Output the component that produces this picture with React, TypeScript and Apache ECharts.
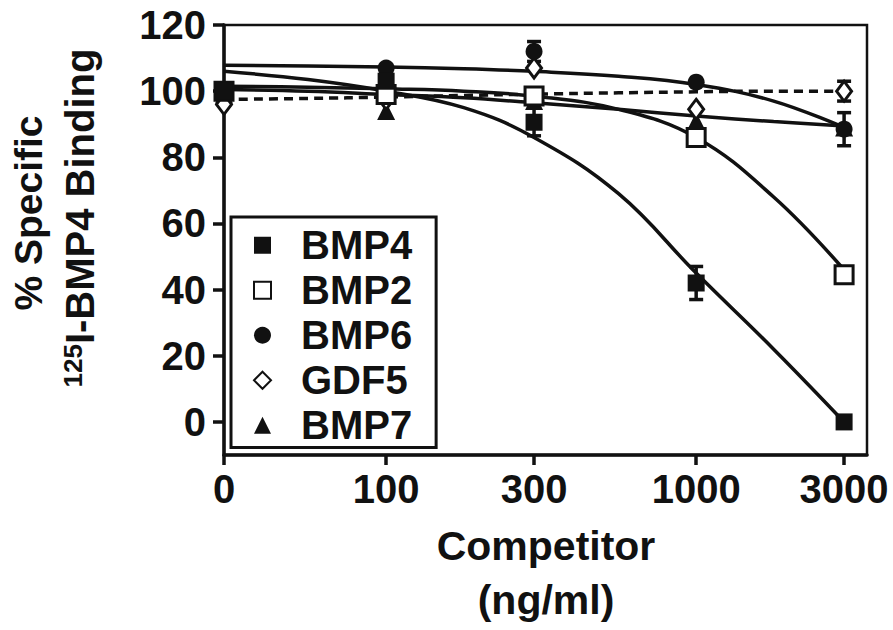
import React, { useEffect, useRef } from "react";
import * as echarts from "echarts";

// x positions (concentration in ng/ml; 0 is plotted at 30 on the log axis, as GraphPad does)
const concLabels = ["0", "100", "300", "1000", "3000"];
const concPlot = [30, 100, 300, 1000, 3000];

// measured points (% specific binding)
const bmp4 = [100, 103, 90.6, 42, 0];
const bmp2 = [100, 99, 98.5, 86, 44.5];
const bmp6 = [100, 107, 112, 102.7, 88.5];
const gdf5 = [96, 97.5, 107, 94.5, 100];
const bmp7 = [99, 94, 97, 91, 89];

// error bars: [conc, low, high]
const errBars = [
  [100, 99, 107],
  [300, 86.5, 95],
  [1000, 37, 47],
  [300, 109, 115],
  [3000, 83.5, 93.5],
  [3000, 97, 103],
];

// fitted curves at these concentrations
const fitConc = [30, 56, 100, 178, 300, 562, 1000, 1778, 3000];
const fitBmp4 = [106, 103.5, 100, 95, 86, 69, 45, 22, 0];
const fitBmp2 = [101.5, 101.2, 100.7, 100, 98.5, 94.5, 86, 68, 46];
const fitBmp6 = [107.8, 107.6, 107.3, 106.8, 106, 104.5, 102, 97, 89];
const fitBmp7 = [100.5, 100, 99, 98, 96.5, 94.5, 92.5, 90.8, 89.5];
const fitGdf5 = [97.5, 97.8, 98.2, 98.7, 99.1, 99.5, 99.8, 100, 100];

const yTicks = [0, 20, 40, 60, 80, 100, 120];

const FONT = "'Liberation Sans', Arial, Helvetica, sans-serif";
const INK = "#111";

const lg = (v: number) => Math.log10(v);

export default function App() {
  const ref = useRef<HTMLDivElement>(null);
  useEffect(() => {
    if (!ref.current) return;
    const chart = echarts.init(ref.current, undefined, { renderer: "svg" });
    const xTickVals = concPlot.map(lg);
    const pts = (arr: number[]) => arr.map((v, i) => [lg(concPlot[i]), v]);
    const fit = (arr: number[]) => arr.map((v, i) => [lg(fitConc[i]), v]);

    const fitLine = (name: string, arr: number[], dashed = false) => ({
      name,
      type: "line",
      data: fit(arr),
      smooth: 0.4,
      showSymbol: false,
      symbol: "none",
      lineStyle: { color: INK, width: 3.5, opacity: 1, type: dashed ? [9, 6] : "solid" },
      z: 2,
      silent: true,
    });

    const scatter = (name: string, arr: number[], symbol: string, size: any, open: boolean, z: number) => ({
      name,
      type: "scatter",
      data: pts(arr),
      symbol,
      symbolSize: size,
      clip: false,
      itemStyle: open
        ? { color: "#fff", borderColor: INK, borderWidth: 3, opacity: 1 }
        : { color: INK, borderColor: INK, borderWidth: 0, opacity: 1 },
      z,
    });

    const option: any = {
      animation: false,
      grid: {
        left: 224,
        top: 25,
        width: 643,
        height: 430,
        show: true,
        borderColor: INK,
        borderWidth: 2.5,
        backgroundColor: "transparent",
      },
      xAxis: {
        type: "value",
        min: lg(30),
        max: 3.551,
        splitLine: { show: false },
        axisLine: { show: true, onZero: false, lineStyle: { color: INK, width: 3.5 } },
        axisTick: { show: true, length: 10, inside: false, lineStyle: { color: INK, width: 3.5 }, customValues: xTickVals },
        axisLabel: {
          customValues: xTickVals,
          margin: 14,
          color: INK,
          fontFamily: FONT,
          fontWeight: "bold",
          fontSize: 40,
          formatter: (v: number) => {
            let best = 0;
            xTickVals.forEach((t, i) => {
              if (Math.abs(t - v) < Math.abs(xTickVals[best] - v)) best = i;
            });
            return concLabels[best];
          },
        },
      },
      yAxis: {
        type: "value",
        min: -10,
        max: 120,
        splitLine: { show: false },
        axisLine: { show: true, onZero: false, lineStyle: { color: INK, width: 3.5 } },
        axisTick: { show: true, length: 11, lineStyle: { color: INK, width: 3.5 }, customValues: yTicks },
        axisLabel: {
          customValues: yTicks,
          margin: 18,
          color: INK,
          fontFamily: FONT,
          fontWeight: "bold",
          fontSize: 40,
        },
      },
      legend: {
        orient: "vertical",
        left: 231,
        top: 217,
        data: ["BMP4", "BMP2", "BMP6", "GDF5", "BMP7"],
        padding: [8, 24, 2, 22],
        itemGap: 4.5,
        itemWidth: 17,
        itemHeight: 17,
        borderColor: INK,
        borderWidth: 3,
        borderRadius: 0,
        backgroundColor: "#fff",
        selectedMode: false,
        textStyle: {
          color: INK,
          fontFamily: FONT,
          fontWeight: "bold",
          fontSize: 40,
          lineHeight: 40.5,
          padding: [0, 0, 0, 25],
        },
        z: 10,
      },
      graphic: [
        {
          type: "text",
          x: 28,
          y: 213,
          rotation: Math.PI / 2,
          style: {
            text: "% Specific",
            font: `bold 39px ${FONT}`,
            fill: INK,
            align: "center",
            verticalAlign: "middle",
          },
        },
        {
          type: "text",
          x: 80,
          y: 218,
          rotation: Math.PI / 2,
          style: {
            text: "{s|125}{m|I-BMP4 Binding}",
            align: "center",
            verticalAlign: "middle",
            rich: {
              s: { font: `bold 26px ${FONT}`, fill: INK, verticalAlign: "top", lineHeight: 40 },
              m: { font: `bold 40px ${FONT}`, fill: INK, lineHeight: 40 },
            },
          },
        },
        {
          type: "text",
          x: 546,
          y: 546,
          style: {
            text: "Competitor",
            font: `bold 41px ${FONT}`,
            fill: INK,
            align: "center",
            verticalAlign: "middle",
          },
        },
        {
          type: "text",
          x: 546,
          y: 600,
          style: {
            text: "(ng/ml)",
            font: `bold 41px ${FONT}`,
            fill: INK,
            align: "center",
            verticalAlign: "middle",
          },
        },
      ],
      series: [
        fitLine("BMP4 fit", fitBmp4),
        fitLine("BMP2 fit", fitBmp2),
        fitLine("BMP6 fit", fitBmp6),
        fitLine("BMP7 fit", fitBmp7),
        fitLine("GDF5 fit", fitGdf5, true),
        {
          name: "error",
          type: "custom",
          data: errBars.map((e) => [lg(e[0]), e[1], e[2]]),
          z: 3,
          silent: true,
          renderItem: (params: any, api: any) => {
            const x = api.value(0);
            const lo = api.coord([x, api.value(1)]);
            const hi = api.coord([x, api.value(2)]);
            const w = 7;
            const st = { stroke: INK, lineWidth: 3.5 };
            return {
              type: "group",
              children: [
                { type: "line", shape: { x1: lo[0], y1: lo[1], x2: hi[0], y2: hi[1] }, style: st },
                { type: "line", shape: { x1: lo[0] - w, y1: lo[1], x2: lo[0] + w, y2: lo[1] }, style: st },
                { type: "line", shape: { x1: hi[0] - w, y1: hi[1], x2: hi[0] + w, y2: hi[1] }, style: st },
              ],
            };
          },
        },
        scatter("BMP7", bmp7, "triangle", 18, false, 4),
        scatter("GDF5", gdf5, "diamond", [15, 20], true, 5),
        scatter("BMP6", bmp6, "circle", 17, false, 6),
        scatter("BMP2", bmp2, "rect", 18, true, 7),
        scatter("BMP4", bmp4, "rect", 17, false, 8),
      ],
    };
    chart.setOption(option);
    return () => chart.dispose();
  }, []);
  return (
    <div
      ref={ref}
      style={{ position: "fixed", left: 0, top: 0, width: 893, height: 630, background: "#fff" }}
    />
  );
}
